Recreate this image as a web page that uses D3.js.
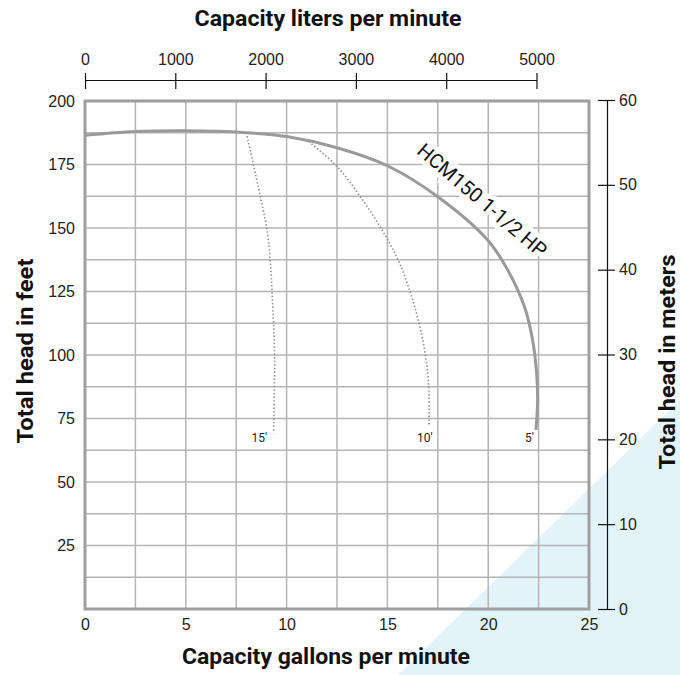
<!DOCTYPE html>
<html>
<head>
<meta charset="utf-8">
<script src="https://cdn.jsdelivr.net/npm/d3@7"></script>
<style>
  body { margin: 0; background: #fff; }
  svg { display: block; font-family: Roboto, "Noto Sans", sans-serif; }
  .tick text { font-size: 16px; fill: #222; }
  .title { font-size: 22px; font-weight: 700; fill: #111; }
</style>
</head>
<body>
<div id="chart"></div>
<script>
// tick values for the four axes
var gpmTicks = [0, 5, 10, 15, 20, 25];
var lpmTicks = [0, 1000, 2000, 3000, 4000, 5000];
var feetTicks = [25, 50, 75, 100, 125, 150, 175, 200];
var meterTicks = [0, 10, 20, 30, 40, 50, 60];

// pump curve (gpm, feet)
var curveGpm  = [0, 2.5, 5, 7.5, 10, 12.5, 15, 17.5, 20, 21, 21.8, 22.2, 22.4, 22.45, 22.37];
var curveFeet = [186.5, 188, 188.3, 187.8, 186, 181.6, 174.5, 162.3, 145, 133, 119, 106, 93, 82, 70.5];

// dotted curves for 15' and 10' suction lift
var dot15Gpm  = [8.0, 8.7, 9.03, 9.2, 9.28, 9.36, 9.41, 9.39, 9.36];
var dot15Feet = [187.5, 162.3, 149, 136, 124.4, 111.1, 98, 85, 69.2];
var dot10Gpm  = [11.1, 12.5, 13.83, 14.83, 15.57, 16.15, 16.57, 16.9, 17.06, 17.06];
var dot10Feet = [184, 174.2, 160.4, 147.9, 136.7, 124.3, 112.5, 99.3, 86.2, 71.8];

// lift labels at the foot of each curve
var liftLabels = ["15\u2032", "10\u2032", "5\u2032"];
var liftGpm = [8.65, 16.85, 22.05];
var liftFeet = [65.7, 65.7, 65.7];

var curveName = "HCM150 1-1/2 HP";

// size of the picture
var svgWidth = 680;
var svgHeight = 675;

// plot box
var plotLeft = 85, plotRight = 589, plotTop = 101, plotBottom = 609;

var svg = d3.select("#chart")
  .append("svg")
  .attr("width", svgWidth)
  .attr("height", svgHeight);

// light blue corner behind everything
svg.append("polygon")
  .attr("points", "680,400 680,675 398,675")
  .attr("fill", "#e3f4f9");

// scales
var x = d3.scaleLinear().domain([0, 25]).range([plotLeft, plotRight]);
var y = d3.scaleLinear().domain([0, 200]).range([plotBottom, plotTop]);
var xL = d3.scaleLinear().domain([0, 5000]).range([plotLeft, 536.5]);
var yM = d3.scaleLinear().domain([0, 60]).range([plotBottom, 100]);

// grid
var grid = svg.append("g").attr("stroke", "#b4b4b4").attr("stroke-width", 1.5);
grid.selectAll(".v")
  .data(d3.range(1, 10).map(function(i) { return i * 2.5; }))
  .enter().append("line")
  .attr("x1", function(d) { return x(d); })
  .attr("x2", function(d) { return x(d); })
  .attr("y1", plotTop).attr("y2", plotBottom);
grid.selectAll(".h")
  .data(d3.range(1, 16).map(function(i) { return i * 12.5; }))
  .enter().append("line")
  .attr("y1", function(d) { return y(d); })
  .attr("y2", function(d) { return y(d); })
  .attr("x1", plotLeft).attr("x2", plotRight);

// curve label with a white halo that breaks the grid
var lx = x(19.4) + 5, ly = y(158) - 6;
svg.append("text")
  .attr("transform", "translate(" + lx + "," + ly + ") rotate(40.5)")
  .attr("text-anchor", "middle")
  .attr("dominant-baseline", "middle")
  .attr("font-size", 20)
  .attr("fill", "#111")
  .attr("stroke", "#fff")
  .attr("stroke-width", 9)
  .attr("paint-order", "stroke")
  .text(curveName);

// plot border
svg.append("rect")
  .attr("x", plotLeft).attr("y", plotTop)
  .attr("width", plotRight - plotLeft).attr("height", plotBottom - plotTop)
  .attr("fill", "none")
  .attr("stroke", "#9e9e9e")
  .attr("stroke-width", 3);

var line = d3.line()
  .x(function(d) { return x(d[0]); })
  .y(function(d) { return y(d[1]); })
  .curve(d3.curveCatmullRom);

// dotted curves
[[dot15Gpm, dot15Feet], [dot10Gpm, dot10Feet]].forEach(function(s) {
  svg.append("path")
    .datum(d3.zip(s[0], s[1]))
    .attr("d", line)
    .attr("fill", "none")
    .attr("stroke", "#8a8a8a")
    .attr("stroke-width", 1.6)
    .attr("stroke-dasharray", "1.4,2.2");
});

// main pump curve
svg.append("path")
  .datum(d3.zip(curveGpm, curveFeet))
  .attr("d", line)
  .attr("fill", "none")
  .attr("stroke", "#9a9a9c")
  .attr("stroke-width", 3);

svg.selectAll(".lift")
  .data(liftLabels)
  .enter().append("text")
  .attr("x", function(d, i) { return x(liftGpm[i]); })
  .attr("y", function(d, i) { return y(liftFeet[i]); })
  .attr("text-anchor", "middle")
  .attr("font-size", 12)
  .attr("fill", "#222")
  .text(function(d) { return d; });

// bottom axis (gpm)
svg.append("g")
  .attr("transform", "translate(0," + plotBottom + ")")
  .call(d3.axisBottom(x).tickValues(gpmTicks).tickSize(0).tickPadding(10))
  .call(function(g) { g.select(".domain").remove(); });

// left axis (feet)
svg.append("g")
  .attr("transform", "translate(" + plotLeft + ",0)")
  .call(d3.axisLeft(y).tickValues(feetTicks).tickSize(0).tickPadding(10))
  .call(function(g) { g.select(".domain").remove(); });

// top axis (liters per minute)
svg.append("g")
  .attr("transform", "translate(0,80)")
  .call(d3.axisTop(xL).tickValues(lpmTicks).tickFormat(d3.format("d"))
    .tickSize(7).tickSizeOuter(0).tickPadding(8))
  .call(function(g) {
    g.select(".domain").attr("stroke", "#111").attr("stroke-width", 1.2);
    g.selectAll(".tick line").attr("y1", 9).attr("stroke", "#111").attr("stroke-width", 1.2);
  });

// right axis (meters)
svg.append("g")
  .attr("transform", "translate(607,0)")
  .call(d3.axisRight(yM).tickValues(meterTicks).tickSize(8).tickSizeOuter(0).tickPadding(4))
  .call(function(g) {
    g.select(".domain").attr("stroke", "#111").attr("stroke-width", 1.2);
    g.selectAll(".tick line").attr("x1", -9).attr("stroke", "#111").attr("stroke-width", 1.2);
  });

// axis titles
svg.append("text")
  .attr("class", "title")
  .attr("x", 328).attr("y", 26)
  .attr("text-anchor", "middle")
  .attr("textLength", 267).attr("lengthAdjust", "spacingAndGlyphs")
  .text("Capacity liters per minute");

svg.append("text")
  .attr("class", "title")
  .attr("x", 326).attr("y", 664)
  .attr("text-anchor", "middle")
  .attr("textLength", 288).attr("lengthAdjust", "spacingAndGlyphs")
  .text("Capacity gallons per minute");

svg.append("text")
  .attr("class", "title")
  .attr("transform", "translate(33,351) rotate(-90)")
  .attr("text-anchor", "middle")
  .attr("textLength", 185).attr("lengthAdjust", "spacingAndGlyphs")
  .text("Total head in feet");

svg.append("text")
  .attr("class", "title")
  .attr("transform", "translate(675,362) rotate(-90)")
  .attr("text-anchor", "middle")
  .attr("textLength", 215).attr("lengthAdjust", "spacingAndGlyphs")
  .text("Total head in meters");
</script>
</body>
</html>
